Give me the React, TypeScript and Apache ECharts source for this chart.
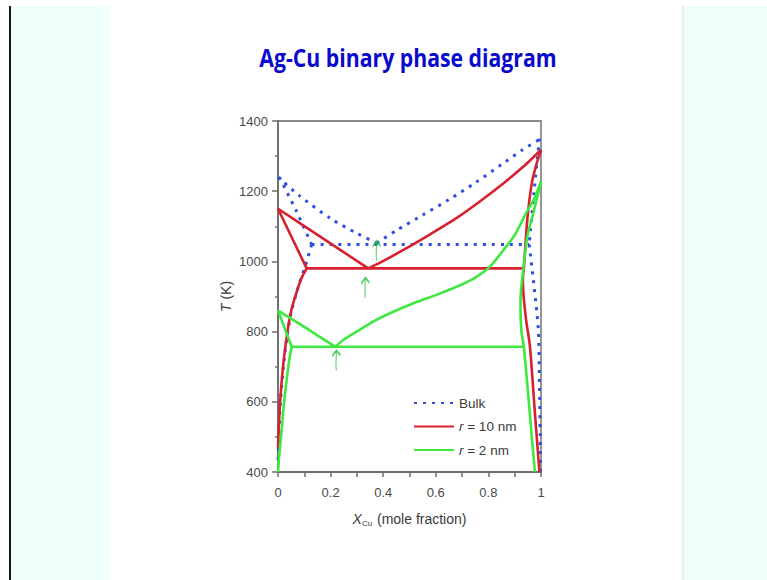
import React, { useEffect, useRef } from "react";
import * as echarts from "echarts";

// ---------- data (x = mole fraction Cu, T in K) ----------
const xTicks = [0, 0.2, 0.4, 0.6, 0.8, 1];
const yTicks = [400, 600, 800, 1000, 1200, 1400];

// Bulk
const bulkLiqAg = [[0, 1240], [0.08, 1188], [0.2, 1122], [0.3, 1080], [0.375, 1052]];
const bulkLiqCu = [[0.375, 1052], [0.45, 1088], [0.55, 1132], [0.65, 1176], [0.75, 1224], [0.85, 1276], [0.93, 1318], [1, 1350]];
const bulkEut = [[0.128, 1048], [0.955, 1048]];
const bulkSolAg = [[0.005, 1240], [0.07, 1143], [0.128, 1048]];
const bulkSolvusAg = [[0.128, 1048], [0.103, 985], [0.077, 928], [0.05, 855], [0.035, 790], [0.02, 696], [0.008, 586], [0.002, 480], [0, 420]];
const bulkSolCu = [[0.994, 1350], [0.973, 1194], [0.955, 1048]];
const bulkSolvusCu = [[0.955, 1048], [0.971, 947], [0.99, 805], [0.994, 663], [0.997, 500], [0.998, 400]];

// r = 10 nm
const redLiqAg = [[0, 1150], [0.172, 1065], [0.343, 980]];
const redLiqCu = [[0.343, 980], [0.39, 997], [0.48, 1034], [0.58, 1078], [0.68, 1124], [0.77, 1172], [0.86, 1224], [0.93, 1268], [0.97, 1296], [1, 1318]];
const redEut = [[0.109, 980], [0.935, 980]];
const redSolAg = [[0, 1150], [0.109, 980]];
const redSolvusAg = [[0.109, 980], [0.088, 950], [0.07, 910], [0.052, 865], [0.036, 800], [0.022, 720], [0.012, 640], [0.005, 560], [0, 470]];
const redSolCu = [[1, 1318], [0.982, 1275], [0.965, 1223], [0.948, 1120], [0.935, 980]];
const redSolvusCu = [[0.935, 980], [0.931, 950], [0.934, 900], [0.944, 830], [0.958, 757], [0.977, 567], [0.994, 400]];

// r = 2 nm
const greenLiqAg = [[0, 860], [0.109, 809], [0.217, 757]];
const greenLiqCu = [[0.217, 757], [0.248, 776], [0.299, 800], [0.36, 828], [0.434, 855], [0.52, 882], [0.6, 904], [0.68, 928], [0.75, 954], [0.806, 985], [0.86, 1035], [0.9, 1075], [0.945, 1140], [0.975, 1180], [1, 1228]];
const greenEut = [[0.052, 757], [0.935, 757]];
const greenSolAg = [[0, 860], [0.052, 757]];
const greenSolvusAg = [[0.052, 757], [0.043, 720], [0.033, 662], [0.022, 590], [0.014, 520], [0.006, 460], [0, 400]];
const greenSolCu = [[1, 1228], [0.975, 1150], [0.948, 1070], [0.93, 960], [0.922, 890], [0.925, 805], [0.935, 757]];
const greenSolvusCu = [[0.935, 757], [0.952, 615], [0.965, 500], [0.977, 400]];

// hand-drawn arrows pointing at the eutectic points
const arrowPoints = [[0.375, 1030], [0.332, 925], [0.222, 718]];

const seriesNames = ["Bulk", "r = 10 nm", "r = 2 nm"];

const BLUE = "#2f4fe0";
const RED = "#d8202e";
const GREEN = "#3ee83e";
const FONT = "'Liberation Sans', Arial, sans-serif";

export default function App() {
  const ref = useRef<HTMLDivElement>(null);

  useEffect(() => {
    if (!ref.current) return;
    const chart = echarts.init(ref.current, undefined, { renderer: "svg" });

    const mk = (name: string, data: number[][], color: string, dotted: boolean) => ({
      type: "line",
      name,
      data,
      symbol: "none",
      showSymbol: false,
      smooth: 0.25,
      z: dotted ? 2 : name === "r = 2 nm" ? 4 : 3,
      lineStyle: dotted
        ? { color, width: 3, type: [3, 6] }
        : { color, width: 2.6, type: "solid" },
      itemStyle: { color },
      emphasis: { disabled: true },
      silent: true,
    });

    const series: any[] = [
      ...[bulkLiqAg, bulkLiqCu, bulkEut, bulkSolAg, bulkSolvusAg, bulkSolCu, bulkSolvusCu].map((d) =>
        mk(seriesNames[0], d, BLUE, true)
      ),
      ...[redLiqAg, redLiqCu, redEut, redSolAg, redSolvusAg, redSolCu, redSolvusCu].map((d) =>
        mk(seriesNames[1], d, RED, false)
      ),
      ...[greenLiqAg, greenLiqCu, greenEut, greenSolAg, greenSolvusAg, greenSolCu, greenSolvusCu].map((d) =>
        mk(seriesNames[2], d, GREEN, false)
      ),
      {
        type: "scatter",
        name: "arrows",
        data: arrowPoints,
        symbol: "path://M5,24 C4,17 5,8 5,1 M1,7 L5,0 L9,6",
        symbolSize: [8, 20],
        symbolKeepAspect: false,
        itemStyle: { color: "none", borderColor: "#27c23f", borderWidth: 1.6 },
        z: 5,
        silent: true,
      },
    ];

    chart.setOption({
      animation: false,
      backgroundColor: "#ffffff",
      graphic: [
        { type: "rect", silent: true, z: -10, shape: { x: 11, y: 6, width: 99, height: 574 }, style: { fill: "#eefffa" } },
        { type: "rect", silent: true, z: -10, shape: { x: 683, y: 6, width: 84, height: 574 }, style: { fill: "#eefffa" } },
        { type: "rect", silent: true, z: -9, shape: { x: 682, y: 6, width: 1.5, height: 574 }, style: { fill: "#e2e8e6" } },
        { type: "rect", silent: true, z: -9, shape: { x: 9, y: 6, width: 2, height: 574 }, style: { fill: "#1a1a1a" } },
        {
          type: "text",
          silent: true,
          x: 408,
          y: 57,
          scaleX: 0.85,
          style: {
            text: "Ag-Cu binary phase diagram",
            fill: "#0a0acc",
            font: "bold 25px 'Open Sans', 'Liberation Sans', sans-serif",
            textAlign: "center",
            textVerticalAlign: "middle",
          },
        },
      ],
      grid: {
        left: 278,
        top: 121,
        width: 263,
        height: 351,
        show: true,
        borderColor: "#8a8a8a",
        borderWidth: 1.8,
        backgroundColor: "transparent",
      },
      legend: {
        data: seriesNames,
        orient: "vertical",
        left: 413,
        top: 396,
        padding: 0,
        itemWidth: 40,
        itemHeight: 14,
        itemGap: 9.5,
        itemStyle: { opacity: 0 },
        formatter: (n: string) => (n === "Bulk" ? "Bulk" : "{i|r}" + n.slice(1)),
        textStyle: {
          fontFamily: FONT,
          fontSize: 13.5,
          color: "#3a3a3a",
          rich: {
            i: { fontStyle: "italic", fontFamily: FONT, fontSize: 13.5, color: "#3a3a3a" },
          },
        },
      },
      xAxis: {
        type: "value",
        min: xTicks[0],
        max: xTicks[xTicks.length - 1],
        interval: 0.2,
        name: "{i|X}{s|Cu} (mole fraction)",
        nameLocation: "middle",
        nameGap: 39,
        nameTextStyle: {
          fontFamily: FONT,
          fontSize: 14,
          color: "#3a3a3a",
          rich: {
            i: { fontStyle: "italic", fontSize: 14, color: "#3a3a3a", fontFamily: FONT },
            s: { fontSize: 8, color: "#3a3a3a", verticalAlign: "bottom", padding: [8, 1, 0, 0], fontFamily: FONT },
          },
        },
        axisLine: { show: true, onZero: false, lineStyle: { color: "#6e6e6e", width: 1.8 } },
        axisTick: { show: true, inside: false, length: 5, lineStyle: { color: "#6e6e6e", width: 1.5 } },
        minorTick: { show: true, splitNumber: 2, length: 5, lineStyle: { color: "#6e6e6e", width: 1.5 } },
        splitLine: { show: false },
        axisLabel: {
          margin: 14,
          fontFamily: FONT,
          fontSize: 13,
          color: "#4a4a4a",
          formatter: (v: number) => String(v),
        },
      },
      yAxis: {
        type: "value",
        min: yTicks[0],
        max: yTicks[yTicks.length - 1],
        interval: 200,
        name: "{i|T} (K)",
        nameLocation: "middle",
        nameGap: 45,
        nameTextStyle: {
          fontFamily: FONT,
          fontSize: 14,
          color: "#3a3a3a",
          rich: {
            i: { fontStyle: "italic", fontSize: 14, color: "#3a3a3a", fontFamily: FONT },
          },
        },
        axisLine: { show: true, onZero: false, lineStyle: { color: "#6e6e6e", width: 1.8 } },
        axisTick: { show: true, inside: false, length: 6, lineStyle: { color: "#6e6e6e", width: 1.5 } },
        minorTick: { show: true, splitNumber: 2, length: 3, lineStyle: { color: "#6e6e6e", width: 1.5 } },
        splitLine: { show: false },
        axisLabel: {
          margin: 10,
          fontFamily: FONT,
          fontSize: 13,
          color: "#4a4a4a",
          formatter: (v: number) => String(v),
        },
      },
      series,
    });

    return () => chart.dispose();
  }, []);

  return (
    <div style={{ position: "fixed", left: 0, top: 0, width: 767, height: 580, background: "#fff" }}>
      <div ref={ref} style={{ width: 767, height: 580 }} />
    </div>
  );
}
